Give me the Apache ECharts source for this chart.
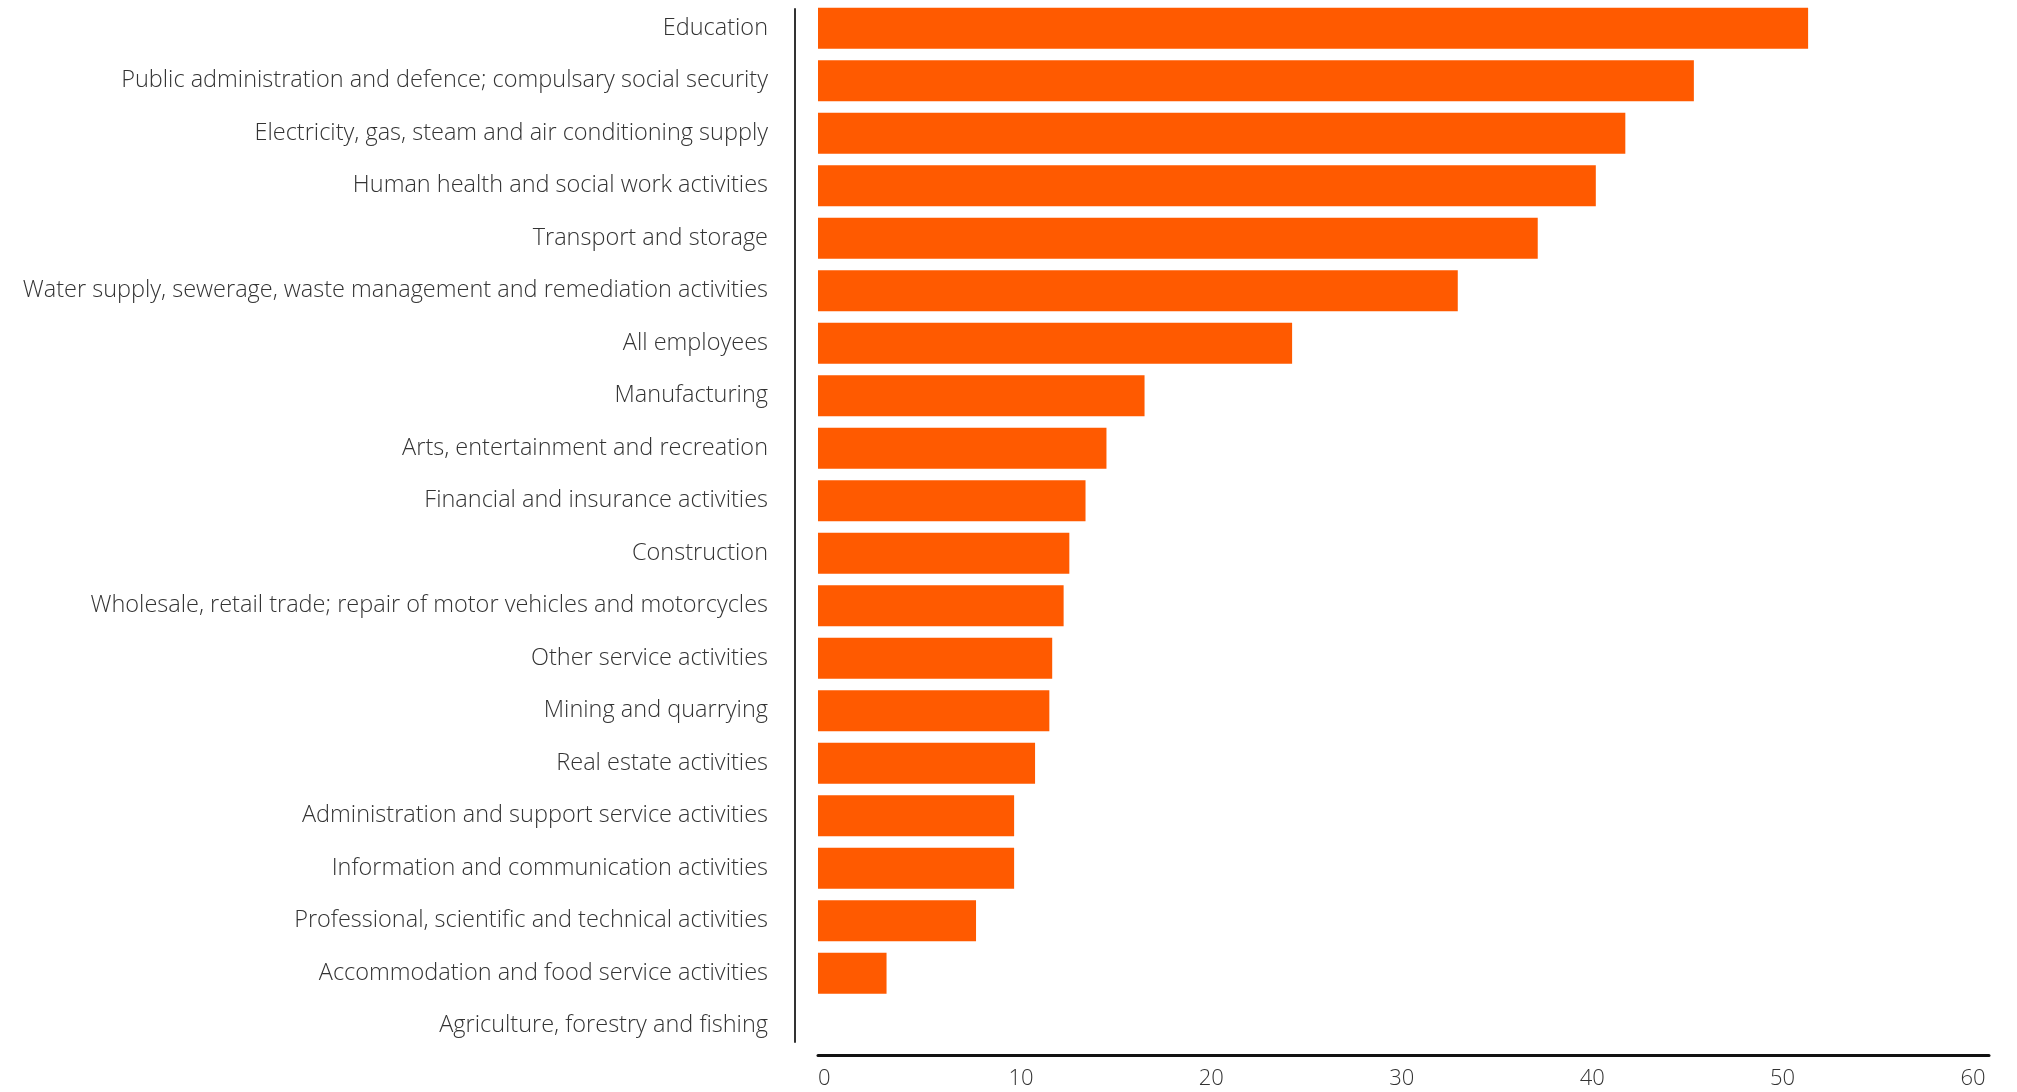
<!DOCTYPE html>
<html>
<head>
<meta charset="utf-8">
<title>Share by industry</title>
<script src="https://cdn.jsdelivr.net/npm/echarts@6/dist/echarts.min.js"></script>
<style>
  html, body { margin: 0; padding: 0; background: #fff; }
  #bars { width: 2017px; height: 1092px; }
</style>
</head>
<body>
<div id="bars"></div>
<script>
// categories, top to bottom
var industries = [
  'Education',
  'Public administration and defence; compulsary social security',
  'Electricity, gas, steam and air conditioning supply',
  'Human health and social work activities',
  'Transport and storage',
  'Water supply, sewerage, waste management and remediation activities',
  'All employees',
  'Manufacturing',
  'Arts, entertainment and recreation',
  'Financial and insurance activities',
  'Construction',
  'Wholesale, retail trade; repair of motor vehicles and motorcycles',
  'Other service activities',
  'Mining and quarrying',
  'Real estate activities',
  'Administration and support service activities',
  'Information and communication activities',
  'Professional, scientific and technical activities',
  'Accommodation and food service activities',
  'Agriculture, forestry and fishing'
];
var shares = [52.0, 46.0, 42.4, 40.85, 37.8, 33.6, 24.9, 17.15, 15.15, 14.05,
              13.2, 12.9, 12.3, 12.15, 11.4, 10.3, 10.3, 8.3, 3.6, 0];
var xTicks = [0, 10, 20, 30, 40, 50, 60];

var font = '"Open Sans", Lato, sans-serif';
var textCol = '#333';

var chart = echarts.init(document.getElementById('bars'));
chart.setOption({
  animation: false,
  backgroundColor: '#fff',
  grid: [
    {left: 818, right: 28, top: 2, bottom: 40},
    // only used to draw the vertical axis line
    {left: 795, right: 28, top: 9, bottom: 50}
  ],
  xAxis: [
    {
      type: 'value',
      gridIndex: 0,
      min: 0,
      max: 61.5,
      interval: 10,
      offset: 3,
      axisLine: {show: true, lineStyle: {color: '#111', width: 3}},
      axisTick: {show: false},
      splitLine: {show: false},
      axisLabel: {
        color: textCol,
        fontFamily: font,
        fontSize: 22,
        fontWeight: 300,
        align: 'left',
        margin: 13,
        showMaxLabel: false,
        formatter: function (v) {
          return xTicks.indexOf(v) >= 0 ? String(v) : '';
        }
      }
    },
    {type: 'value', gridIndex: 1, show: false, min: 0, max: 61.5}
  ],
  yAxis: [
    {
      type: 'category',
      gridIndex: 0,
      data: industries,
      inverse: true,
      axisLine: {show: false},
      axisTick: {show: false},
      splitLine: {show: false},
      axisLabel: {
        color: textCol,
        fontFamily: font,
        fontSize: 23.5,
        fontWeight: 300,
        margin: 50,
        padding: [0, 0, 6, 0]
      }
    },
    {
      type: 'category',
      gridIndex: 1,
      data: industries,
      inverse: true,
      axisLine: {show: true, onZero: false, lineStyle: {color: '#333', width: 2}},
      axisTick: {show: false},
      axisLabel: {show: false},
      splitLine: {show: false}
    }
  ],
  series: [
    {
      type: 'bar',
      xAxisIndex: 0,
      yAxisIndex: 0,
      data: shares,
      barWidth: 41,
      itemStyle: {color: '#ff5a00'}
    }
  ]
});
</script>
</body>
</html>
